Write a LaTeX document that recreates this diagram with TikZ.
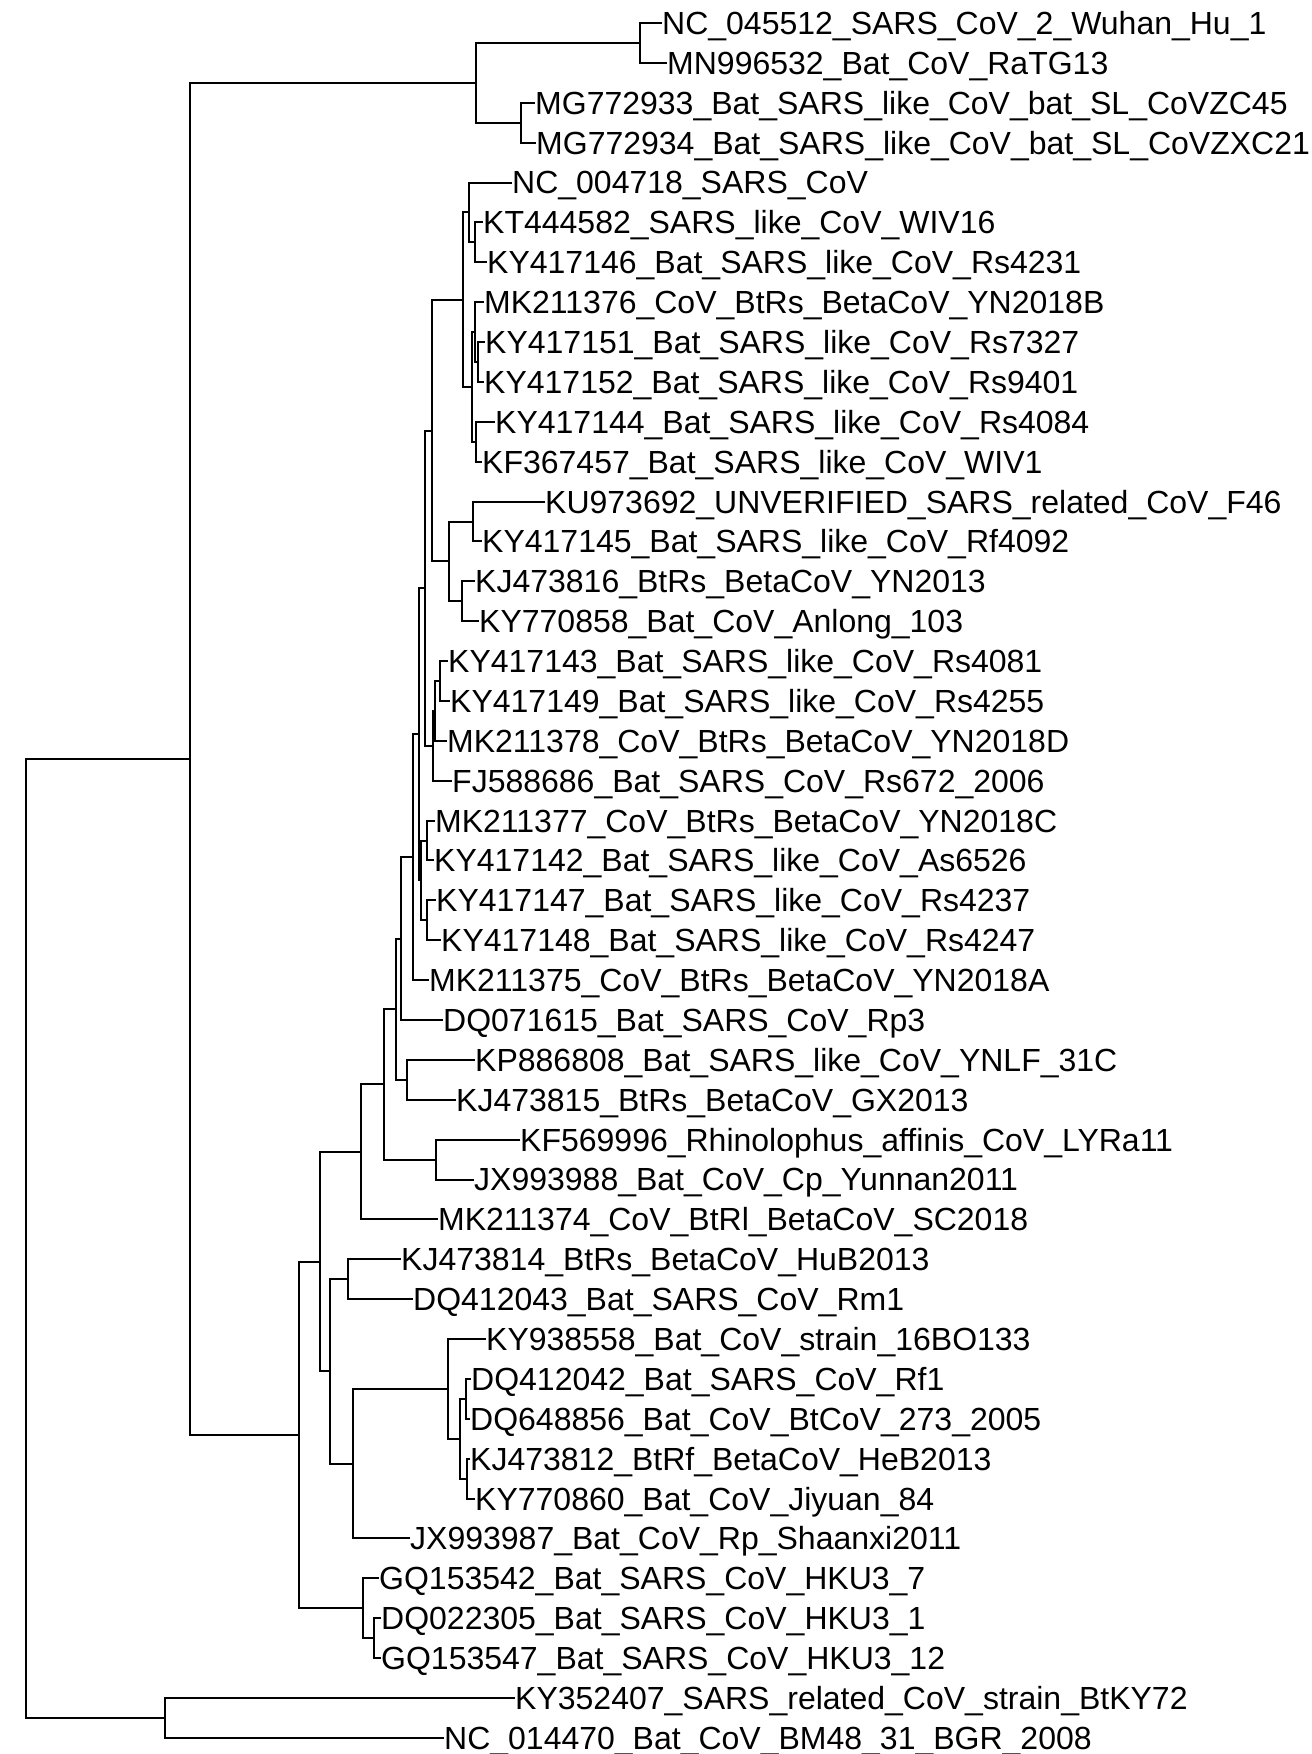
\documentclass[tikz,border=0pt]{standalone}
\usepackage{fontspec}
\setmainfont{Liberation Sans}
\begin{document}
\begin{tikzpicture}[
    x=1pt, y=-1pt,
    leaf/.style={anchor=west, inner xsep=0pt, inner ysep=0pt, text height=22.9pt, text depth=0pt, font=\fontsize{32}{38}\selectfont},
    branch/.style={draw, line width=2pt}
]
    \useasboundingbox (0,0) rectangle (1312,1754);

    % Leaves (tip x / label), one every 39.88 units from the top
    \foreach \tx/\lab [count=\i] in {
        662/NC\_045512\_SARS\_CoV\_2\_Wuhan\_Hu\_1,
        667/MN996532\_Bat\_CoV\_RaTG13,
        535/MG772933\_Bat\_SARS\_like\_CoV\_bat\_SL\_CoVZC45,
        536/MG772934\_Bat\_SARS\_like\_CoV\_bat\_SL\_CoVZXC21,
        512/NC\_004718\_SARS\_CoV,
        483/KT444582\_SARS\_like\_CoV\_WIV16,
        487/KY417146\_Bat\_SARS\_like\_CoV\_Rs4231,
        484/MK211376\_CoV\_BtRs\_BetaCoV\_YN2018B,
        485/KY417151\_Bat\_SARS\_like\_CoV\_Rs7327,
        484/KY417152\_Bat\_SARS\_like\_CoV\_Rs9401,
        495/KY417144\_Bat\_SARS\_like\_CoV\_Rs4084,
        482/KF367457\_Bat\_SARS\_like\_CoV\_WIV1,
        545/KU973692\_UNVERIFIED\_SARS\_related\_CoV\_F46,
        482/KY417145\_Bat\_SARS\_like\_CoV\_Rf4092,
        475/KJ473816\_BtRs\_BetaCoV\_YN2013,
        479/KY770858\_Bat\_CoV\_Anlong\_103,
        448/KY417143\_Bat\_SARS\_like\_CoV\_Rs4081,
        450/KY417149\_Bat\_SARS\_like\_CoV\_Rs4255,
        447/MK211378\_CoV\_BtRs\_BetaCoV\_YN2018D,
        452/FJ588686\_Bat\_SARS\_CoV\_Rs672\_2006,
        435/MK211377\_CoV\_BtRs\_BetaCoV\_YN2018C,
        434/KY417142\_Bat\_SARS\_like\_CoV\_As6526,
        436/KY417147\_Bat\_SARS\_like\_CoV\_Rs4237,
        441/KY417148\_Bat\_SARS\_like\_CoV\_Rs4247,
        429/MK211375\_CoV\_BtRs\_BetaCoV\_YN2018A,
        443/DQ071615\_Bat\_SARS\_CoV\_Rp3,
        475/KP886808\_Bat\_SARS\_like\_CoV\_YNLF\_31C,
        456/KJ473815\_BtRs\_BetaCoV\_GX2013,
        520/KF569996\_Rhinolophus\_affinis\_CoV\_LYRa11,
        474/JX993988\_Bat\_CoV\_Cp\_Yunnan2011,
        438/MK211374\_CoV\_BtRl\_BetaCoV\_SC2018,
        401/KJ473814\_BtRs\_BetaCoV\_HuB2013,
        413/DQ412043\_Bat\_SARS\_CoV\_Rm1,
        486/KY938558\_Bat\_CoV\_strain\_16BO133,
        471/DQ412042\_Bat\_SARS\_CoV\_Rf1,
        470/DQ648856\_Bat\_CoV\_BtCoV\_273\_2005,
        470/KJ473812\_BtRf\_BetaCoV\_HeB2013,
        475/KY770860\_Bat\_CoV\_Jiyuan\_84,
        410/JX993987\_Bat\_CoV\_Rp\_Shaanxi2011,
        379/GQ153542\_Bat\_SARS\_CoV\_HKU3\_7,
        381/DQ022305\_Bat\_SARS\_CoV\_HKU3\_1,
        381/GQ153547\_Bat\_SARS\_CoV\_HKU3\_12,
        515/KY352407\_SARS\_related\_CoV\_strain\_BtKY72,
        444/NC\_014470\_Bat\_CoV\_BM48\_31\_BGR\_2008%
    }{
        \node[leaf] (l\i) at (\tx, {23+(\i-1)*39.88}) {\lab};
    }

    % Inner nodes
    \coordinate (n12) at (640, 42.9);
    \coordinate (n34) at (521, 122.7);
    \coordinate (nTop) at (475.5, 82.8);
    \coordinate (n67) at (475, 242.3);
    \coordinate (nA) at (468.5, 212.4);
    \coordinate (n910) at (478, 362.0);
    \coordinate (nX) at (474.5, 332.1);
    \coordinate (n1112) at (475.5, 441.7);
    \coordinate (nY) at (471.7, 386.9);
    \coordinate (nB) at (462.7, 299.7);
    \coordinate (n1314) at (473.3, 521.5);
    \coordinate (n1516) at (461.7, 601.3);
    \coordinate (nE) at (449.3, 561.4);
    \coordinate (nD) at (431.7, 430.5);
    \coordinate (n1718) at (440, 681.0);
    \coordinate (n19) at (435, 710.9);
    \coordinate (nH) at (432.7, 745.8);
    \coordinate (nF) at (425, 588.2);
    \coordinate (n2122) at (427.3, 840.5);
    \coordinate (n2324) at (427.3, 920.3);
    \coordinate (n2124) at (421, 880.4);
    \coordinate (nG) at (419.3, 734.3);
    \coordinate (nI) at (413.3, 857.2);
    \coordinate (nJ) at (401, 938.6);
    \coordinate (n2728) at (406.7, 1079.8);
    \coordinate (nK) at (396, 1009.2);
    \coordinate (n2930) at (435.7, 1159.6);
    \coordinate (nL) at (384.3, 1084.4);
    \coordinate (nM) at (361, 1151.9);
    \coordinate (n3233) at (347.7, 1279.2);
    \coordinate (n3536) at (466, 1398.9);
    \coordinate (n3738) at (467.3, 1478.6);
    \coordinate (nR) at (460, 1438.7);
    \coordinate (nQ) at (448.3, 1388.9);
    \coordinate (nP) at (353.3, 1463.7);
    \coordinate (nO) at (330, 1371.4);
    \coordinate (nN) at (320, 1261.7);
    \coordinate (n4142) at (374, 1638.1);
    \coordinate (n4042) at (363.3, 1608.2);
    \coordinate (nS) at (299.3, 1435.0);
    \coordinate (nT) at (189.5, 758.9);
    \coordinate (n4344) at (165, 1717.9);
    \coordinate (root) at (25.7, 1238.4);

    % Branches
    \draw[branch] (l1.west) -| (n12) |- (l2.west);
    \draw[branch] (l3.west) -| (n34) |- (l4.west);
    \draw[branch] (n12) -| (nTop) |- (n34);
    \draw[branch] (l6.west) -| (n67) |- (l7.west);
    \draw[branch] (l5.west) -| (nA) |- (n67);
    \draw[branch] (l9.west) -| (n910) |- (l10.west);
    \draw[branch] (l8.west) -| (nX) |- (n910);
    \draw[branch] (l11.west) -| (n1112) |- (l12.west);
    \draw[branch] (nX) -| (nY) |- (n1112);
    \draw[branch] (nA) -| (nB) |- (nY);
    \draw[branch] (l13.west) -| (n1314) |- (l14.west);
    \draw[branch] (l15.west) -| (n1516) |- (l16.west);
    \draw[branch] (n1314) -| (nE) |- (n1516);
    \draw[branch] (nB) -| (nD) |- (nE);
    \draw[branch] (l17.west) -| (n1718) |- (l18.west);
    \draw[branch] (n1718) -| (n19) |- (l19.west);
    \draw[branch] (n19) -| (nH) |- (l20.west);
    \draw[branch] (nD) -| (nF) |- (nH);
    \draw[branch] (l21.west) -| (n2122) |- (l22.west);
    \draw[branch] (l23.west) -| (n2324) |- (l24.west);
    \draw[branch] (n2122) -| (n2124) |- (n2324);
    \draw[branch] (nF) -| (nG) |- (n2124);
    \draw[branch] (nG) -| (nI) |- (l25.west);
    \draw[branch] (nI) -| (nJ) |- (l26.west);
    \draw[branch] (l27.west) -| (n2728) |- (l28.west);
    \draw[branch] (nJ) -| (nK) |- (n2728);
    \draw[branch] (l29.west) -| (n2930) |- (l30.west);
    \draw[branch] (nK) -| (nL) |- (n2930);
    \draw[branch] (nL) -| (nM) |- (l31.west);
    \draw[branch] (l32.west) -| (n3233) |- (l33.west);
    \draw[branch] (l35.west) -| (n3536) |- (l36.west);
    \draw[branch] (l37.west) -| (n3738) |- (l38.west);
    \draw[branch] (n3536) -| (nR) |- (n3738);
    \draw[branch] (l34.west) -| (nQ) |- (nR);
    \draw[branch] (nQ) -| (nP) |- (l39.west);
    \draw[branch] (n3233) -| (nO) |- (nP);
    \draw[branch] (nM) -| (nN) |- (nO);
    \draw[branch] (l41.west) -| (n4142) |- (l42.west);
    \draw[branch] (l40.west) -| (n4042) |- (n4142);
    \draw[branch] (nN) -| (nS) |- (n4042);
    \draw[branch] (nTop) -| (nT) |- (nS);
    \draw[branch] (l43.west) -| (n4344) |- (l44.west);
    \draw[branch] (nT) -| (root) |- (n4344);
\end{tikzpicture}
\end{document}
